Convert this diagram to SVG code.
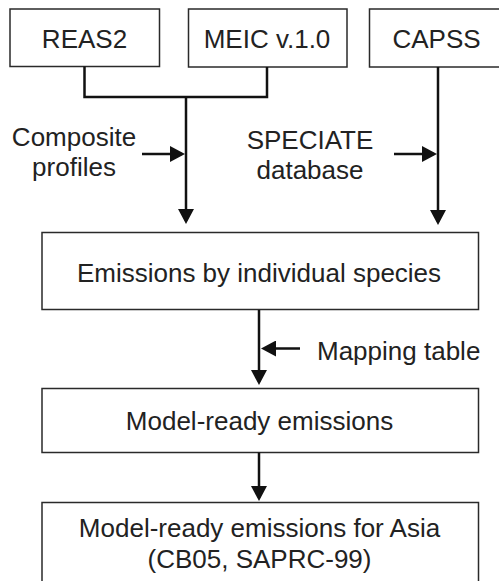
<svg xmlns="http://www.w3.org/2000/svg" width="499" height="581" viewBox="0 0 499 581">
<style>
.box{fill:#fff;stroke:#2a2a2a;stroke-width:1.5}
.t{font-family:"Liberation Sans",Arial,sans-serif;font-size:26px;fill:#222;text-anchor:middle}
.c{fill:none;stroke:#111;stroke-width:2.5}
</style>
<defs>
<marker id="ah" markerUnits="userSpaceOnUse" markerWidth="15" markerHeight="16" viewBox="0 0 15 16" refX="12" refY="8" orient="auto">
<path d="M0,0 L15,8 L0,16 z" fill="#111"/>
</marker>
</defs>
<rect width="499" height="581" fill="#fff"/>
<g id="reas2"><rect class="box" x="10" y="9" width="149.5" height="57.5"/><text class="t" x="84.5" y="47.5">REAS2</text></g>
<g id="meic"><rect class="box" x="188.5" y="9" width="158.5" height="58"/><text class="t" x="267" y="47.5">MEIC v.1.0</text></g>
<g id="capss"><rect class="box" x="369.5" y="9" width="140" height="58"/><text class="t" x="436.5" y="47.5">CAPSS</text></g>
<g id="composite"><text class="t" x="74" y="146">Composite</text><text class="t" x="74" y="176">profiles</text></g>
<g id="speciate"><text class="t" x="310" y="148.5">SPECIATE</text><text class="t" x="310" y="179">database</text></g>
<g id="species"><rect class="box" x="42" y="232.5" width="436.5" height="77"/><text class="t" x="259" y="282">Emissions by individual species</text></g>
<g id="mapping"><text class="t" x="317" y="360" style="text-anchor:start">Mapping table</text></g>
<g id="modelready"><rect class="box" x="42" y="388.5" width="436.5" height="64"/><text class="t" x="259.5" y="430">Model-ready emissions</text></g>
<g id="asia"><rect class="box" x="42" y="502.5" width="436.5" height="100"/><text class="t" x="259.5" y="537">Model-ready emissions for Asia</text><text class="t" x="259.5" y="568">(CB05, SAPRC-99)</text></g>
<g id="connectors">
<polyline class="c" points="84.5,66.5 84.5,97 267,97 267,67"/>
<line class="c" x1="186" y1="96" x2="186" y2="221" marker-end="url(#ah)"/>
<line class="c" x1="142" y1="154" x2="182" y2="154" marker-end="url(#ah)"/>
<line class="c" x1="438" y1="67" x2="438" y2="222" marker-end="url(#ah)"/>
<line class="c" x1="394" y1="154" x2="434" y2="154" marker-end="url(#ah)"/>
<line class="c" x1="259" y1="310" x2="259" y2="382" marker-end="url(#ah)"/>
<line class="c" x1="300" y1="348.5" x2="264" y2="348.5" marker-end="url(#ah)"/>
<line class="c" x1="259" y1="452.5" x2="259" y2="498" marker-end="url(#ah)"/>
</g>
</svg>
